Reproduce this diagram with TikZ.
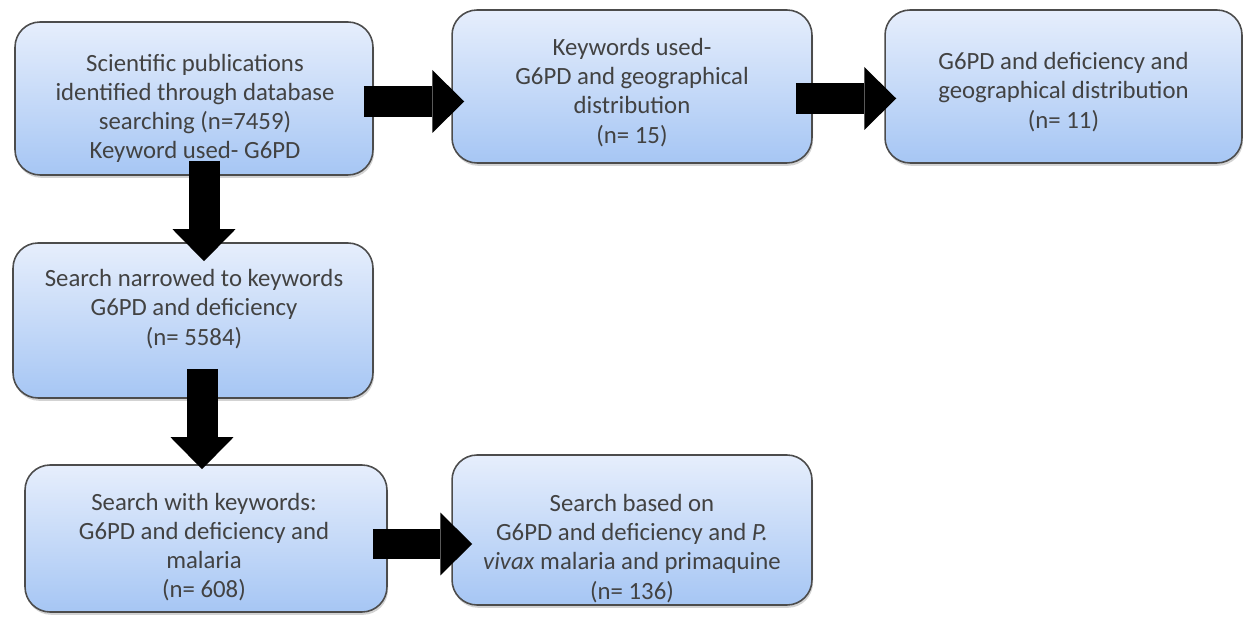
\documentclass[tikz,border=0pt]{standalone}
\usepackage{fontspec}
\setmainfont{Carlito}
\usetikzlibrary{arrows.meta,calc,shadows}
\definecolor{boxtop}{RGB}{230,238,252}
\definecolor{boxbot}{RGB}{166,198,244}
\definecolor{txtgray}{RGB}{66,66,66}

\begin{document}
\begin{tikzpicture}[x=.02cm,y=-.02cm,
    box/.style={draw=black!70,line width=.9pt,rounded corners=.5cm,top color=boxtop,bottom color=boxbot,
      drop shadow={shadow xshift=.6pt,shadow yshift=-1.6pt,opacity=.35},inner sep=0pt},
    txt/.style={align=center,text=txtgray,font=\fontsize{14.1}{16.6}\selectfont,inner sep=0pt},
    bigarrow/.style={line width=.62cm,-{Triangle[length=.64cm,width=1.26cm,line width=0pt]}}]
  \useasboundingbox (0,0) rectangle (1243,617);
  % boxes
  \node[box,minimum width=7.16cm,minimum height=3.06cm] (pubs) at (194,98.5) {};
  \node[box,minimum width=7.2cm,minimum height=3.06cm] (geo) at (632,86.5) {};
  \node[box,minimum width=7.14cm,minimum height=3.06cm] (defgeo) at (1063.5,86.5) {};
  \node[box,minimum width=7.2cm,minimum height=3.1cm] (narrow) at (193,320.5) {};
  \node[box,minimum width=7.24cm,minimum height=2.94cm] (malaria) at (206,538.5) {};
  \node[box,minimum width=7.2cm,minimum height=3cm] (primaq) at (632,530) {};
  % texts
  \node[txt] (pubs-t) at ($(pubs)+(1,10)$) {Scientific publications\\identified through database\\searching (n=7459)\\Keyword used- G6PD};
  \node[txt] (geo-t) at ($(geo)+(0,6)$) {Keywords used-\\G6PD and geographical\\distribution\\(n= 15)};
  \node[txt] (defgeo-t) at ($(defgeo)+(0,5.5)$) {G6PD and deficiency and\\geographical distribution\\(n= 11)};
  \node[txt] (narrow-t) at ($(narrow)+(1,-11.5)$) {Search narrowed to keywords\\G6PD and deficiency\\(n= 5584)};
  \node[txt] (malaria-t) at ($(malaria)+(-2,8.5)$) {Search with keywords:\\G6PD and deficiency and\\malaria\\(n= 608)};
  \node[txt] (primaq-t) at ($(primaq)+(0,18.5)$) {Search based on\\G6PD and deficiency and \textit{P.}\\\textit{vivax} malaria and primaquine\\(n= 136)};
  % arrows
  \draw[bigarrow] ($(pubs.east)+(-10,3)$) -- ($(pubs.east -| geo.west)+(13,3)$);
  \draw[bigarrow] ($(geo.east)+(-17,12)$) -- ($(geo.east -| defgeo.west)+(12,12)$);
  \draw[bigarrow] ($(pubs.south)+(10,-15)$) -- ($(pubs.south |- narrow.north)+(10,19)$);
  \draw[bigarrow] ($(narrow.south)+(9,-30)$) -- ($(narrow.south |- malaria.north)+(9,5)$);
  \draw[bigarrow] ($(malaria.east)+(-15,5.5)$) -- ($(malaria.east -| primaq.west)+(21,5.5)$);
\end{tikzpicture}
\end{document}
